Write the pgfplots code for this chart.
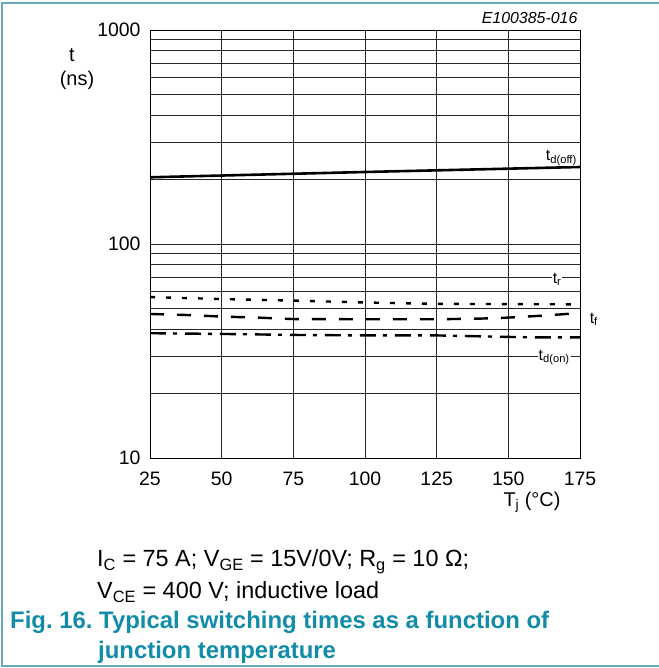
\documentclass[border=0pt]{standalone}
\usepackage{pgfplots}
\pgfplotsset{compat=1.18}
\usepackage{fontspec}
\setmainfont{Liberation Sans}

\definecolor{frameteal}{RGB}{104,170,186}
\definecolor{capteal}{RGB}{18,140,168}

\pgfplotstableread{
T    toff
25   205
100  217
175  229
}\tdoff
\pgfplotstableread{
T    tr
25   56.5
50   55.3
75   54.4
100  53.3
125  52.5
150  52.4
175  52.2
}\trise
\pgfplotstableread{
T     tf
25    47.1
37.5  46.6
50    45.8
62.5  45.3
75    44.6
100   44.5
125   44.5
140   44.8
150   45.3
162.5 46.3
175   47.6
}\tfall
\pgfplotstableread{
T    ton
25   38.3
50   38.0
75   37.6
100  37.4
125  37.4
150  36.8
160  36.6
175  36.6
}\tdon

\begin{document}
\frenchspacing
\begin{tikzpicture}
\path[use as bounding box] (0,0) rectangle (659bp,-668bp);
% frame
\draw[frameteal, line width=2bp] (659bp,-3bp) -- (2bp,-3bp) -- (2bp,-666bp) -- (659bp,-666bp);

\begin{axis}[
    at={(150bp,-458bp)}, anchor=south west,
    scale only axis, width=430bp, height=428bp,
    xmin=25, xmax=175, ymin=10, ymax=1000,
    ymode=log,
    xtick={25,50,...,175},
    xticklabels={25,50,75,100,125,150,175},
    ytick={10,100,1000}, yticklabels={10,100,1000},
    grid=both,
    major grid style={black!85, line width=0.7bp},
    minor grid style={black!85, line width=0.7bp},
    axis line style={black, line width=0.9bp},
    major tick length=0pt, minor tick length=0pt,
    tick label style={font=\fontsize{19.5}{19.5}\selectfont},
    xticklabel style={anchor=base, yshift=-27bp},
    yticklabel style={xshift=-6bp},
    clip=false,
]
\addplot[black, line width=2.6bp] table[x=T, y=toff] {\tdoff};
\addplot[black, line width=2.4bp, dash pattern=on 5bp off 11bp] table[x=T, y=tr] {\trise};
\addplot[black, line width=2.4bp, dash pattern=on 14bp off 13bp] table[x=T, y=tf] {\tfall};
\addplot[black, line width=2.4bp, dash pattern=on 16bp off 7bp on 4bp off 8bp] table[x=T, y=ton] {\tdon};

\node[fill=white, inner sep=1bp, font=\fontsize{16}{16}\selectfont] at (axis cs:168.5,253) {t\textsubscript{d(off)}};
\node[fill=white, inner sep=1bp, font=\fontsize{16}{16}\selectfont] at (axis cs:167,68.5) {t\textsubscript{r}};
\node[inner sep=1bp, font=\fontsize{16}{16}\selectfont, anchor=west] at (axis cs:178,44.5) {t\textsubscript{f}};
\node[fill=white, inner sep=1bp, font=\fontsize{16}{16}\selectfont] at (axis cs:166,29.5) {t\textsubscript{d(on)}};
\end{axis}

% axis titles
\node[font=\fontsize{20}{20}\selectfont] at (72bp,-55bp) {t};
\node[font=\fontsize{20}{20}\selectfont] at (77bp,-80bp) {(ns)};
\node[font=\fontsize{20}{20}\selectfont, inner sep=0pt] at (532bp,-502bp) {T\textsubscript{j} (°C)};
\node[font=\fontsize{16}{16}\selectfont\itshape, anchor=east] at (581bp,-18bp) {E100385-016};

% conditions
\node[font=\fontsize{23.5}{23.5}\selectfont, anchor=west, inner sep=0pt] at (97bp,-562bp)
  {I\textsubscript{C} = 75 A; V\textsubscript{GE} = 15V/0V; R\textsubscript{g} = 10 Ω;};
\node[font=\fontsize{23.5}{23.5}\selectfont, anchor=west, inner sep=0pt] at (97bp,-592bp)
  {V\textsubscript{CE} = 400 V; inductive load};

% caption
\node[font=\fontsize{24}{24}\selectfont\bfseries, text=capteal, anchor=west, inner sep=0pt] at (10bp,-622bp)
  {Fig. 16. Typical switching times as a function of};
\node[font=\fontsize{24}{24}\selectfont\bfseries, text=capteal, anchor=west, inner sep=0pt] at (98bp,-652bp)
  {junction temperature};
\end{tikzpicture}
\end{document}
